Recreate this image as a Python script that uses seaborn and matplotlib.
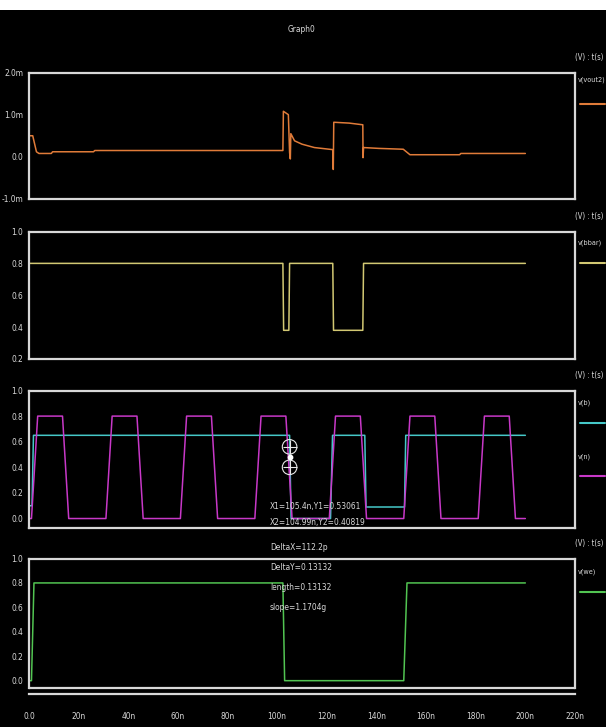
import numpy as np
import pandas as pd
import seaborn as sns
import matplotlib.pyplot as plt
from matplotlib.patches import Rectangle

# ---- data (time in ns) ----
t_vout2 = [0, 1.5, 3, 4, 9, 9.5, 26, 26.5, 102.3, 102.5, 103.5, 104.5, 105, 105.3,
           105.5, 107, 110, 115, 122.5, 122.6, 122.8, 129, 134.5, 134.6, 134.8,
           141, 150.8, 153.5, 173.5, 174, 200]
v_vout2 = [0.5, 0.5, 0.12, 0.08, 0.08, 0.12, 0.12, 0.15, 0.15, 1.08, 1.04, 1.0, 0.1, -0.05,
           0.55, 0.38, 0.3, 0.22, 0.17, -0.3, 0.82, 0.8, 0.76, -0.02, 0.22,
           0.2, 0.18, 0.05, 0.05, 0.08, 0.08]  # mV

t_bbar = [0, 102.3, 102.6, 104.7, 105, 122.4, 122.7, 134.5, 134.8, 200]
v_bbar = [0.8, 0.8, 0.38, 0.38, 0.8, 0.8, 0.38, 0.38, 0.8, 0.8]

t_b = [0, 1.2, 1.8, 105, 105.6, 121.5, 122.3, 135.3, 135.8, 151.3, 151.8, 200]
v_b = [0.1, 0.1, 0.65, 0.65, 0.0, 0.0, 0.65, 0.65, 0.09, 0.09, 0.65, 0.65]

t_n = [0, 1, 3.5, 13.5, 16, 31, 33.5, 43.5, 46, 61, 63.5, 73.5, 76, 91, 93.5,
       103.5, 106, 121, 123.5, 133.5, 136, 151, 153.5, 163.5, 166, 181, 183.5,
       193.5, 196, 200]
v_n = [0, 0, 0.8, 0.8, 0, 0, 0.8, 0.8, 0, 0, 0.8, 0.8, 0, 0, 0.8,
       0.8, 0, 0, 0.8, 0.8, 0, 0, 0.8, 0.8, 0, 0, 0.8,
       0.8, 0, 0]

t_we = [0, 1, 2, 102.3, 103, 151, 152.3, 200]
v_we = [0, 0, 0.8, 0.8, 0, 0, 0.8, 0.8]

cursor_t = [105, 105]
cursor_v = [0.56, 0.40]

x_ticks = [0, 20, 40, 60, 80, 100, 120, 140, 160, 180, 200, 220]
x_labels = ["0.0", "20n", "40n", "60n", "80n", "100n", "120n", "140n", "160n", "180n", "200n", "220n"]
cursor_text = ["X1=105.4n,Y1=0.53061", "X2=104.99n,Y2=0.40819", "DeltaX=112.2p",
               "DeltaY=0.13132", "length=0.13132", "slope=1.1704g"]

sns.set_style("dark")
plt.rcParams['font.family'] = ['DejaVu Sans']
plt.rcParams['font.stretch'] = 'condensed'
plt.rcParams['font.size'] = 6

W, H = 606, 727
fig = plt.figure(figsize=(W / 100, H / 100), dpi=100, facecolor="black")
fig.patches.append(Rectangle((0, 1 - 10 / H), 1, 10 / H, transform=fig.transFigure,
                             facecolor="white", edgecolor="none", zorder=5))

FG = "#d8d8d8"

def px_ax(top, bottom):
    return fig.add_axes([29 / W, 1 - bottom / H, (575 - 29) / W, (bottom - top) / H])

panels = [
    dict(box=(72.5, 199), ylim=(-1.0, 2.0), yt=[-1, 0, 1, 2], yl=["-1.0m", "0.0", "1.0m", "2.0m"],
         series=[(t_vout2, v_vout2, "#e07b39", "v(vout2)")], lab_y=[80], seg_y=[104]),
    dict(box=(231.5, 359), ylim=(0.2, 1.0), yt=[0.2, 0.4, 0.6, 0.8, 1.0],
         yl=["0.2", "0.4", "0.6", "0.8", "1.0"],
         series=[(t_bbar, v_bbar, "#d2c873", "v(bbar)")], lab_y=[243], seg_y=[263]),
    dict(box=(390.5, 528), ylim=(-0.074, 1.0), yt=[0, 0.2, 0.4, 0.6, 0.8, 1.0],
         yl=["0.0", "0.2", "0.4", "0.6", "0.8", "1.0"],
         series=[(t_b, v_b, "#45c8c8", "v(b)"), (t_n, v_n, "#c838c8", "v(n)")],
         lab_y=[403, 457], seg_y=[423, 476]),
    dict(box=(558.5, 688), ylim=(-0.06, 1.0), yt=[0, 0.2, 0.4, 0.6, 0.8, 1.0],
         yl=["0.0", "0.2", "0.4", "0.6", "0.8", "1.0"],
         series=[(t_we, v_we, "#52c452", "v(we)")], lab_y=[572], seg_y=[592]),
]

axes = []
for i, p in enumerate(panels):
    ax = px_ax(*p["box"])
    ax.set_facecolor("black")
    for t, v, c, name in p["series"]:
        sns.lineplot(x=t, y=v, ax=ax, color=c, lw=1.1, estimator=None, sort=False)
    ax.set_xlim(0, 220)
    ax.set_ylim(*p["ylim"])
    ax.set_yticks(p["yt"])
    ax.set_yticklabels(p["yl"], color=FG)
    ax.tick_params(axis="y", direction="out", length=3, width=1, color=FG, pad=1, labelsize=6)
    ax.grid(False)
    for s in ax.spines.values():
        s.set_visible(True)
        s.set_color(FG)
        s.set_linewidth(1.6)
    ax.set_xticks(x_ticks)
    if i < 3:
        ax.tick_params(axis="x", bottom=False, labelbottom=False)
    ax.set_xlabel("")
    ax.set_ylabel("")
    top = p["box"][0]
    fig.text(603 / W, 1 - (top - 15) / H, "(V) : t(s)", color=FG, fontsize=5.5,
             ha="right", va="center")
    for (t, v, c, name), ly, sy in zip(p["series"], p["lab_y"], p["seg_y"]):
        fig.text(578 / W, 1 - ly / H, name, color=FG, fontsize=5.2, va="center")
        fig.add_artist(plt.Line2D([580 / W, 605 / W], [1 - sy / H, 1 - sy / H],
                                  transform=fig.transFigure, color=c, lw=1.5))
    axes.append(ax)

# bottom axis: frame line plus a detached time axis just below it
ax4 = axes[3]
ax4.axhline(ax4.get_ylim()[0], color=FG, lw=1.6, clip_on=False)
ax4.spines["bottom"].set_position(("outward", 4))
ax4.set_xticklabels(x_labels, color=FG)
ax4.tick_params(axis="x", direction="out", length=8, width=1, color=FG, pad=5, labelsize=6)

# cursor markers on panel 3
ax3 = axes[2]
ax3.scatter(cursor_t, cursor_v, s=110, facecolors="none", edgecolors="#e8e8e8", lw=0.8, zorder=6)
ax3.scatter(cursor_t, cursor_v, s=110, marker="+", color="#e8e8e8", lw=0.8, zorder=6)
ax3.scatter([105], [0.48], s=10, color="white", zorder=7)

for k, (txt, y) in enumerate(zip(cursor_text, [507, 523, 547, 567, 587, 608])):
    fig.text(270 / W, 1 - y / H, txt, color=FG, fontsize=6, va="center", zorder=10)

fig.text(301 / W, 1 - 30 / H, "Graph0", color=FG, fontsize=6, ha="center", va="center")

fig.savefig("out.png", dpi=100, facecolor="black")
plt.close(fig)
